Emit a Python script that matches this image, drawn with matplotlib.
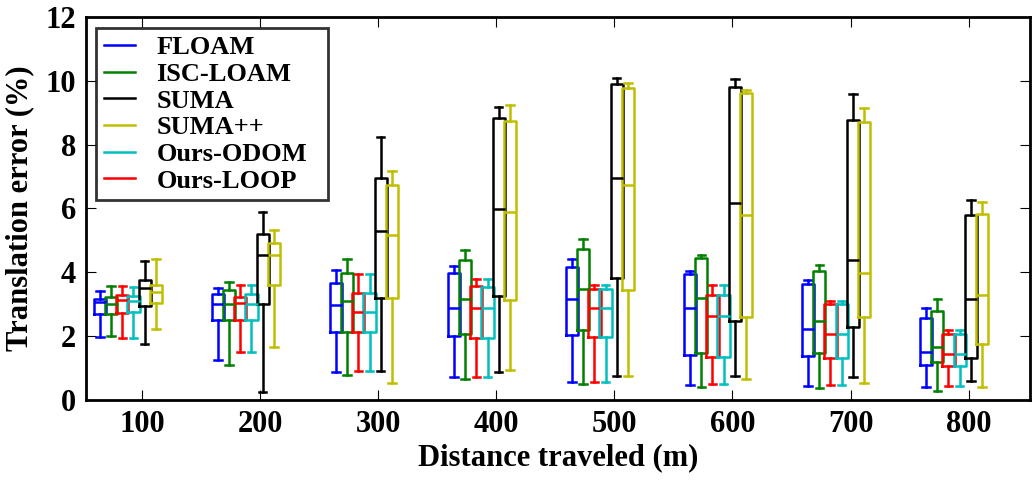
import numpy as np
import matplotlib
matplotlib.use('Agg')
import matplotlib.pyplot as plt
from matplotlib.lines import Line2D

# distances (m) and per-method box stats: (whisker low, q1, median, q3, whisker high)
distances = [100, 200, 300, 400, 500, 600, 700, 800]

floam = [(1.98, 2.69, 3.07, 3.18, 3.42), (1.27, 2.50, 3.02, 3.33, 3.52),
         (0.87, 2.14, 2.97, 3.68, 4.06), (0.71, 2.00, 2.89, 3.98, 4.19),
         (0.55, 2.05, 3.15, 4.17, 4.41), (0.47, 1.41, 2.89, 3.96, 4.04),
         (0.45, 1.38, 2.24, 3.65, 3.75), (0.40, 1.09, 1.49, 2.57, 2.87)]
isc_loam = [(2.02, 2.71, 3.02, 3.22, 3.56), (1.09, 2.50, 3.02, 3.46, 3.70),
            (0.78, 2.14, 3.10, 3.98, 4.41), (0.65, 2.08, 3.15, 4.40, 4.71),
            (0.49, 2.19, 3.47, 4.74, 5.03), (0.40, 1.48, 3.20, 4.45, 4.53),
            (0.39, 1.46, 2.47, 4.04, 4.22), (0.29, 1.18, 1.65, 2.79, 3.15)]
ours_loop = [(1.93, 2.73, 3.12, 3.30, 3.56), (1.49, 2.52, 3.04, 3.23, 3.61),
             (0.92, 2.12, 2.76, 3.35, 3.96), (0.73, 1.95, 2.87, 3.56, 3.80),
             (0.57, 1.96, 2.87, 3.49, 3.61), (0.49, 1.35, 2.62, 3.28, 3.61),
             (0.47, 1.33, 2.06, 3.00, 3.10), (0.45, 1.07, 1.44, 2.06, 2.19)]
ours_odom = [(1.93, 2.75, 3.10, 3.27, 3.55), (1.49, 2.50, 3.02, 3.33, 3.61),
             (0.92, 2.12, 2.76, 3.36, 3.96), (0.73, 1.95, 2.87, 3.55, 3.78),
             (0.57, 1.96, 2.87, 3.49, 3.61), (0.49, 1.35, 2.62, 3.28, 3.61),
             (0.47, 1.33, 2.06, 3.00, 3.10), (0.45, 1.07, 1.44, 2.06, 2.19)]
suma = [(1.74, 2.96, 3.52, 3.77, 4.37), (0.24, 3.00, 4.53, 5.19, 5.90),
        (0.92, 3.20, 5.29, 6.96, 8.23), (0.87, 3.26, 5.97, 8.83, 9.19),
        (0.76, 3.82, 6.95, 9.90, 10.10), (0.76, 2.47, 6.17, 9.79, 10.05),
        (0.73, 2.29, 4.38, 8.77, 9.58), (0.59, 1.32, 3.18, 5.81, 6.28)]
suma_pp = [(2.22, 3.04, 3.38, 3.61, 4.43), (1.65, 3.59, 4.53, 4.92, 5.31),
           (0.54, 3.21, 5.18, 6.72, 7.17), (0.94, 3.12, 5.88, 8.75, 9.25),
           (0.75, 3.44, 6.74, 9.77, 9.93), (0.66, 2.60, 5.81, 9.62, 9.72),
           (0.54, 2.60, 3.99, 8.70, 9.15), (0.42, 1.75, 3.28, 5.83, 6.20)]

# drawing order left to right inside each group
series = [('FLOAM', floam, 'b'), ('ISC-LOAM', isc_loam, 'g'),
          ('Ours-LOOP', ours_loop, 'r'), ('Ours-ODOM', ours_odom, 'c'),
          ('SUMA', suma, 'k'), ('SUMA++', suma_pp, 'y')]
legend_order = ['FLOAM', 'ISC-LOAM', 'SUMA', 'SUMA++', 'Ours-ODOM', 'Ours-LOOP']

plt.rcParams['font.family'] = 'Liberation Serif'
plt.rcParams['font.weight'] = 'bold'

fig, ax = plt.subplots(figsize=(10.32, 4.82), dpi=100)
fig.subplots_adjust(left=0.083, right=0.998, top=0.965, bottom=0.170)

width = 10.4
colors = {}
for i, (name, stats, col) in enumerate(series):
    colors[name] = col
    bxp_stats = [dict(whislo=s[0], q1=s[1], med=s[2], q3=s[3], whishi=s[4], fliers=[])
                 for s in stats]
    pos = np.array(distances) - 36 + 9.5 * i
    lp = dict(color=col, linewidth=1.8)
    ax.bxp(bxp_stats, positions=pos, widths=width, capwidths=0.6 * width,
           showfliers=False, manage_ticks=False,
           boxprops=lp, whiskerprops=lp, capprops=lp, medianprops=lp)

ax.set_xlim(52, 852)
ax.set_ylim(0, 12)
ax.set_xticks(distances)
ax.set_yticks([0, 2, 4, 6, 8, 10, 12])
ax.tick_params(direction='in', length=7, width=0.8, top=True, right=True,
               labelsize=22, pad=7)
for lab in ax.get_xticklabels() + ax.get_yticklabels():
    lab.set_fontweight('bold')
for sp in ax.spines.values():
    sp.set_linewidth(2.0)

ax.set_xlabel('Distance traveled (m)', fontsize=22, fontweight='bold', labelpad=3)
ax.set_ylabel('Translation error (%)', fontsize=22, fontweight='bold', labelpad=8)

handles = [Line2D([0], [0], color=colors[n], linewidth=1.8) for n in legend_order]
leg = ax.legend(handles, legend_order, loc='upper left', mode='expand',
                bbox_to_anchor=(0.0106, 0.0, 0.246, 0.971),
                prop={'weight': 'bold', 'size': 19}, frameon=True, fancybox=False,
                handlelength=1.2, handletextpad=0.8, labelspacing=0.12,
                borderpad=0.3, borderaxespad=0.0)
leg.get_frame().set_edgecolor('k')
leg.get_frame().set_linewidth(2.0)

fig.savefig('out.png', dpi=100)
